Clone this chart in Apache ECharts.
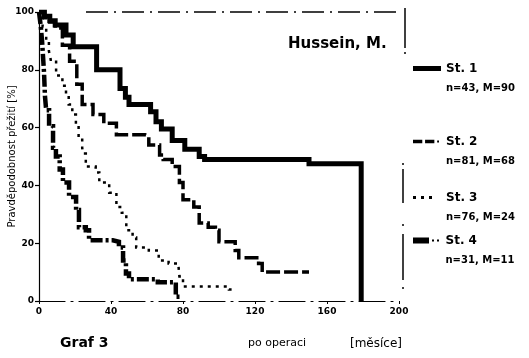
<!DOCTYPE html>
<html>
<head>
<meta charset="utf-8">
<script src="https://cdn.jsdelivr.net/npm/echarts@6/dist/echarts.min.js"></script>
<style>
  html, body { margin: 0; padding: 0; background: #fff; }
  #chart { width: 529px; height: 358px; }
</style>
</head>
<body>
<div id="chart"></div>
<script>
// Kaplan–Meier survival by stage (months after surgery, % surviving)
const stageNames = ['St. 1', 'St. 2', 'St. 3', 'St. 4'];
const stageInfo = ['n=43, M=90', 'n=81, M=68', 'n=76, M=24', 'n=31, M=11'];

const months1 = [0, 3, 6, 9, 15, 19, 32, 45, 48, 50, 62, 65, 68, 74, 81, 89, 92, 150, 179];
const surv1   = [100, 98.5, 97, 95.5, 92, 88, 80, 73.5, 70.5, 68, 65.5, 62, 59.5, 55.5, 52.5, 50, 49, 47.5, 0];

const months2 = [0, 3, 6, 9, 13, 17, 21, 24, 30, 36, 43, 59, 61, 67, 69, 74, 78, 80, 86, 89, 94, 98, 100, 109, 111, 122, 124, 150];
const surv2   = [100, 98, 96.5, 94.5, 88.5, 83, 75, 68, 64.5, 61.5, 57.5, 57, 54, 50.5, 49, 46.5, 41, 35, 32.5, 27, 25.5, 24.5, 20.5, 17.5, 15, 13, 10, 10];

const months3 = [0, 2, 4, 5.5, 6.5, 9.5, 13, 15, 16.5, 18.5, 20.5, 22, 24, 24.5, 26, 31.5, 33.5, 39, 43, 46, 48.5, 52, 54, 61, 66.5, 72, 77.5, 78, 80, 105.5, 107];
const surv3   = [100, 95, 90, 86.5, 83.5, 78, 74.5, 71.5, 68, 64.5, 61, 56.5, 53, 51, 46.5, 44.5, 41, 37.5, 32.5, 30.5, 24.5, 22, 18.5, 17.5, 14, 13, 12, 8.5, 5, 4, 4];

const months4 = [0, 1, 1.7, 2.8, 3.3, 4, 5.6, 7.8, 9.4, 11.5, 13.3, 16.7, 20.6, 22.2, 26, 27.8, 41, 44.4, 46.7, 48.3, 50, 66, 76, 79.5];
const surv4   = [100, 95, 90, 79, 71, 66, 60.5, 53, 50, 45.5, 41, 36, 31.5, 25.5, 24.5, 21, 20.5, 18.5, 14, 9.5, 7.5, 6.5, 1.5, 1.5];

const xTicks = { min: 0, max: 200, interval: 40 };
const yTicks = { min: 0, max: 100, interval: 20 };

function pairs(xs, ys) { return xs.map((x, i) => [x, ys[i]]); }

const lineStyles = [
  { width: 5, type: 'solid' },
  { width: 3.5, type: [14, 4] },
  { width: 2.5, type: [3, 5] },
  { width: 4.5, type: [12, 3, 3, 3] }
];
// legend swatches: solid bar, dashes, dots, bar with dots
const legendIcons = [
  { icon: 'rect', w: 28, h: 5 },
  { icon: 'path://M0,0h10v4h-10z M13,0h10v4h-10z M26,1h2v2h-2z', w: 26, h: 4 },
  { icon: 'path://M0,0h3v3h-3z M8,0h3v3h-3z M16,0h3v3h-3z', w: 19, h: 3 },
  { icon: 'path://M0,0h16v6h-16z M19,2h2v2h-2z M24,2h2v2h-2z', w: 27, h: 6 }
];
const seriesData = [pairs(months1, surv1), pairs(months2, surv2), pairs(months3, surv3), pairs(months4, surv4)];
const legendTops = [44, 117, 173, 216];

const chart = echarts.init(document.getElementById('chart'), null, { renderer: 'canvas' });
const font = 'DejaVu Sans, Liberation Sans, sans-serif';

chart.setOption({
  animation: false,
  backgroundColor: '#fff',
  textStyle: { fontFamily: font, color: '#000' },
  grid: { left: 39, right: 130, top: 12, bottom: 57, outerBoundsMode: 'none', containLabel: false },
  title: [
    { text: 'Hussein, M.', left: 283, top: 32, textStyle: { fontSize: 15, fontWeight: 'bold', color: '#000', fontFamily: font } },
    { text: 'Graf 3', left: 55, top: 331, textStyle: { fontSize: 14, fontWeight: 'bold', color: '#000', fontFamily: font } },
    { text: 'po operaci', left: 243, top: 333, textStyle: { fontSize: 11, fontWeight: 'normal', color: '#000', fontFamily: font } },
    { text: '[měsíce]', left: 345, top: 333, textStyle: { fontSize: 12, fontWeight: 'normal', color: '#000', fontFamily: font } }
  ],
  xAxis: {
    type: 'value',
    min: xTicks.min, max: xTicks.max, interval: xTicks.interval,
    axisLine: { show: true, lineStyle: { color: '#000', width: 1.2, type: [26, 6, 2, 6] } },
    axisTick: { show: true, length: 3, lineStyle: { color: '#000' } },
    splitLine: { show: false },
    axisLabel: { color: '#000', fontSize: 9, fontWeight: 'bold', margin: 6, fontFamily: font }
  },
  yAxis: {
    type: 'value',
    min: yTicks.min, max: yTicks.max, interval: yTicks.interval,
    name: 'Pravděpodobnost přežití [%]',
    nameLocation: 'middle', nameGap: 22, nameRotate: 90,
    nameMoveOverlap: false,
    nameTextStyle: { fontSize: 10, fontWeight: 'normal', color: '#000', fontFamily: font },
    axisLine: { show: true, lineStyle: { color: '#000', width: 1.2 } },
    axisTick: { show: true, length: 4, lineStyle: { color: '#000', width: 1.2 } },
    splitLine: { show: false },
    axisLabel: { color: '#000', fontSize: 9, fontWeight: 'bold', margin: 5, fontFamily: font }
  },
  legend: stageNames.map((name, i) => ({
    data: [name],
    orient: 'vertical',
    left: 413, top: legendTops[i],
    padding: 0,
    icon: legendIcons[i].icon,
    itemWidth: legendIcons[i].w, itemHeight: legendIcons[i].h,
    itemStyle: { color: '#000', borderWidth: 0 },
    lineStyle: { width: 0 },
    itemGap: 0,
    selectedMode: false,
    formatter: n => '{s|}\n{a|' + n + '}\n{b|' + stageInfo[i] + '}',
    textStyle: {
      color: '#000',
      padding: [0, 0, 0, 28 - legendIcons[i].w],
      rich: {
        s: { fontSize: 9, lineHeight: 20 },
        a: { fontSize: 12, fontWeight: 'bold', lineHeight: 20, fontFamily: font },
        b: { fontSize: 10, fontWeight: 'bold', lineHeight: 20, fontFamily: font }
      }
    }
  })),
  series: stageNames.map((name, i) => ({
    name,
    type: 'line',
    step: 'end',
    symbol: 'none',
    data: seriesData[i],
    lineStyle: Object.assign({ color: '#000', cap: 'butt', join: 'miter' }, lineStyles[i]),
    itemStyle: { color: '#000' },
    z: 4 - i
  })),
  graphic: [
    // dash-dot frame pieces at the top and on the right
    { type: 'line', shape: { x1: 86, y1: 12, x2: 399, y2: 12 }, style: { stroke: '#000', lineWidth: 1.5, lineDash: [22, 6, 2, 6] } },
    { type: 'line', shape: { x1: 405, y1: 8, x2: 405, y2: 48 }, style: { stroke: '#000', lineWidth: 1.5 } },
    { type: 'circle', shape: { cx: 405, cy: 53, r: 1 }, style: { fill: '#000' } },
    { type: 'circle', shape: { cx: 403, cy: 164, r: 1 }, style: { fill: '#000' } },
    { type: 'line', shape: { x1: 403, y1: 169, x2: 403, y2: 203 }, style: { stroke: '#000', lineWidth: 1.5 } },
    { type: 'circle', shape: { cx: 403, cy: 225, r: 1 }, style: { fill: '#000' } },
    { type: 'line', shape: { x1: 403, y1: 234, x2: 403, y2: 280 }, style: { stroke: '#000', lineWidth: 1.5 } },
    { type: 'circle', shape: { cx: 403, cy: 288, r: 1 }, style: { fill: '#000' } }
  ]
});
</script>
</body>
</html>
